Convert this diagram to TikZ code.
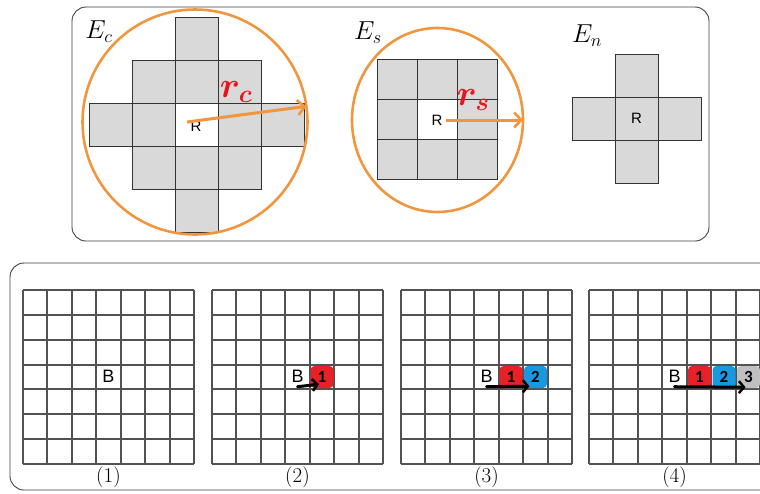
\RequirePackage{fix-cm}
\documentclass[tikz,border=0pt]{standalone}
\usepackage{amsmath,bm}
\usepackage{fontspec}
\newfontfamily\arialfont{Liberation Sans}
\newfontfamily\numfont{Carlito}
\usetikzlibrary{arrows.meta,shapes.geometric}

\definecolor{ringorange}{RGB}{240,150,62}
\definecolor{cellgray}{RGB}{217,217,217}
\definecolor{stepred}{RGB}{232,32,40}
\definecolor{stepblue}{RGB}{24,152,222}
\definecolor{stepgray}{RGB}{192,192,192}
\definecolor{labelred}{RGB}{235,20,30}

\tikzset{
  cell/.style={draw=black!80, fill=cellgray, line width=0.8pt},
  ring/.style={draw=ringorange, line width=2.6pt, inner sep=0pt, outer sep=0pt},
  radius arrow/.style={ringorange, line width=3pt, -{Straight Barb[length=7pt,width=15pt,line width=2.6pt]}},
  frame/.style={draw=black!75, line width=0.9pt, rounded corners=14pt},
  gridline/.style={black!68, line width=1.9pt},
  stepbox/.style={rounded corners=4pt, minimum width=23pt, minimum height=22pt, inner sep=0pt,
    font=\numfont\bfseries\fontsize{17}{17}\selectfont},
  move arrow/.style={line width=3pt, line cap=round, -{Straight Barb[length=5pt,width=12pt,line width=2.5pt]}},
  setname/.style={font=\fontsize{26}{26}\selectfont},
  radname/.style={labelred, font=\fontsize{36}{36}\selectfont},
  letter/.style={font=\arialfont\fontsize{15}{15}\selectfont},
  bigletter/.style={font=\arialfont\fontsize{18}{18}\selectfont},
  caption/.style={font=\fontsize{21}{21}\selectfont},
}

\begin{document}
\begin{tikzpicture}[x=1pt,y=-1pt]
\useasboundingbox (0,0) rectangle (760,493);

% upper panel: the three neighbourhoods
\draw[frame] (72,7) rectangle (709,241);

% E_c
\foreach \i/\j in {0/-2,-1/-1,0/-1,1/-1,-2/0,-1/0,1/0,2/0,-1/1,0/1,1/1,0/2}
  \draw[cell] ({175+43*\i},{103+43*\j}) rectangle +(43,43);
\draw[draw=black!80, line width=0.8pt] (175,103) rectangle +(43,43);
\node[letter] (Rc) at (196,126) {R};
\node[ring, circle, minimum size=225pt] (ringc) at (195,122) {};
\draw[radius arrow] ([yshift=4pt]Rc.west) -- (ringc.8);
\node[radname] (rc) at (236,92) {$\bm{r_c}$};
\node[setname] (Ec) at (99,32) {$E_c$};

% E_s
\foreach \i in {-1,0,1}
  \foreach \j in {-1,0,1}
    \draw[cell] ({417+40*\i},{99+40*\j}) rectangle +(40,40);
\draw[fill=white, draw=black!80, line width=0.8pt] (417,99) rectangle +(40,40);
\node[letter] (Rs) at (437,120) {R};
\node[ring, ellipse, minimum width=171pt, minimum height=184pt] (rings) at (437.5,120) {};
\draw[radius arrow] (Rs.east) -- (rings.east);
\node[radname] (rs) at (473,100) {$\bm{r_s}$};
\node[setname] (Es) at (368,33) {$E_s$};

% E_n
\foreach \i/\j in {0/-1,-1/0,0/0,1/0,0/1}
  \draw[cell] ({615+43*\i},{97+43*\j}) rectangle +(43,43);
\node[letter] (Rn) at (636.5,118.5) {R};
\node[setname] (En) at (587,36) {$E_n$};

% lower panel: growing the path from B
\draw[frame] (10,263) rectangle (790,490);
\foreach \x/\n in {23/1,212/2,401/3,589/4} {
  \foreach \k in {0,...,7} {
    \draw[gridline] ({\x+\k*171/7},290) -- ({\x+\k*171/7},464);
    \draw[gridline] (\x,{290+\k*174/7}) -- ({\x+171},{290+\k*174/7});
  }
  \node[bigletter] (b\n) at ({\x+3.5*171/7},376) {B};
  \node[caption] (cap\n) at ({\x+85.5},477) {(\n)};
}

% steps 1, 2, 3
\node[stepbox, fill=stepred] (s21) at (322,377) {1};
\node[stepbox, fill=stepred] (s31) at (511,377) {1};
\node[stepbox, fill=stepblue] (s32) at (535.5,377) {2};
\node[stepbox, fill=stepred] (s41) at (699.5,377) {1};
\node[stepbox, fill=stepblue] (s42) at (724,377) {2};
\node[stepbox, fill=stepgray] (s43) at (748.5,377) {3};

\draw[move arrow] ([yshift=-1pt]b2.south) -- ([xshift=-3pt,yshift=4pt]s21.south);
\draw[move arrow] ([yshift=-1pt]b3.south) -- ([xshift=-6pt,yshift=2pt]s32.south);
\draw[move arrow] ([yshift=-1pt]b4.south) -- ([xshift=-3pt,yshift=1pt]s43.south);
\end{tikzpicture}
\end{document}
